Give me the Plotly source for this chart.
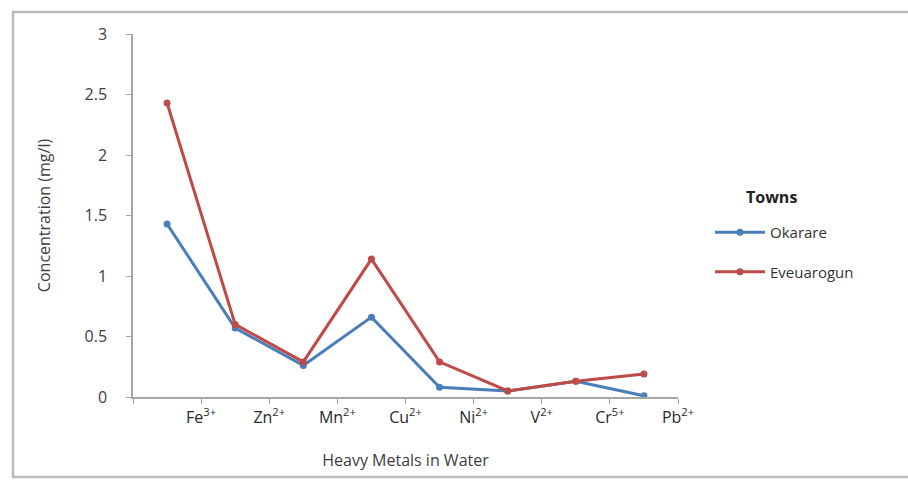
import plotly.graph_objects as go

metals = ["Fe<sup>3+</sup>", "Zn<sup>2+</sup>", "Mn<sup>2+</sup>", "Cu<sup>2+</sup>",
          "Ni<sup>2+</sup>", "V<sup>2+</sup>", "Cr<sup>5+</sup>", "Pb<sup>2+</sup>"]
okarare = [1.43, 0.57, 0.26, 0.66, 0.08, 0.05, 0.13, 0.01]
eveuarogun = [2.43, 0.60, 0.29, 1.14, 0.29, 0.05, 0.13, 0.19]
y_ticks = [0, 0.5, 1, 1.5, 2, 2.5, 3]
y_tick_text = ["0", "0.5", "1", "1.5", "2", "2.5", "3"]

idx = list(range(len(metals)))
W, H = 908, 487
L, R, T, B = 133, 230, 34, 90
pw, ph = W - L - R, H - T - B

font = "Open Sans, Liberation Sans, sans-serif"
txt = "#404040"

fig = go.Figure()
fig.add_trace(go.Scatter(x=idx, y=okarare, name="Okarare", mode="lines+markers",
                         legendgroup="a",
                         line=dict(color="#4A7EBB", width=3),
                         marker=dict(color="#4A7EBB", size=7, symbol="circle")))
fig.add_trace(go.Scatter(x=idx, y=eveuarogun, name="Eveuarogun", mode="lines+markers",
                         legendgroup="b",
                         line=dict(color="#BE4B48", width=3),
                         marker=dict(color="#BE4B48", size=7, symbol="circle")))

tickvals = [i - 0.5 for i in range(len(metals) + 1)]
ticktext = [""] + metals

fig.update_layout(
    width=W, height=H,
    margin=dict(l=L, r=R, t=T, b=B),
    paper_bgcolor="white", plot_bgcolor="white",
    font=dict(family=font, color=txt, size=14),
    showlegend=True,
    legend=dict(
        x=(710 - L) / pw, y=(H - B - 216) / ph, xanchor="left", yanchor="top",
        font=dict(size=15, color="#333"), tracegroupgap=17, itemwidth=50,
        bgcolor="rgba(0,0,0,0)",
    ),
    xaxis=dict(
        range=[-0.5, len(metals) - 0.5],
        tickmode="array", tickvals=tickvals, ticktext=ticktext,
        showline=True, linecolor="#A6A6A6", linewidth=1.5,
        ticks="outside", ticklen=5, tickcolor="#A6A6A6",
        showgrid=False, zeroline=False,
        tickfont=dict(size=16, color="#2a2a2a"),
        title=dict(text="Heavy Metals in Water", font=dict(size=16, color=txt), standoff=28),
    ),
    yaxis=dict(
        range=[0, 3],
        tickmode="array", tickvals=y_ticks, ticktext=y_tick_text,
        showline=True, linecolor="#A6A6A6", linewidth=1.5,
        ticks="outside", ticklen=5, tickcolor="#A6A6A6",
        ticklabelstandoff=16,
        showgrid=False, zeroline=False,
        tickfont=dict(size=16, color=txt),
        title=dict(text="Concentration (mg/l)", font=dict(size=16, color=txt), standoff=30),
    ),
)

fig.add_annotation(text="<b>Towns</b>", xref="paper", yref="paper",
                   x=(744 - L) / pw, y=(H - B - 197) / ph, xanchor="left", yanchor="middle",
                   showarrow=False, font=dict(size=16, color="#222"))

fig.add_shape(type="rect", xref="paper", yref="paper",
              x0=(13 - L) / pw, x1=(912 - L) / pw,
              y0=(H - B - 477) / ph, y1=(H - B - 12) / ph,
              line=dict(color="#BBBBBB", width=2.5), fillcolor="rgba(0,0,0,0)", layer="below")

fig.write_html("out.html")
